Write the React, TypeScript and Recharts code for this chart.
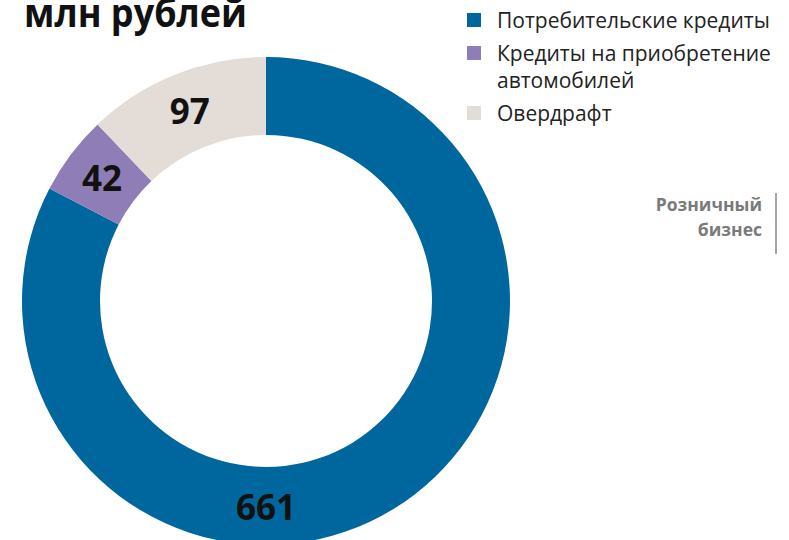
import React from 'react';
import { PieChart, Pie, Cell } from 'recharts';

const categories = ['Потребительские кредиты', 'Кредиты на приобретение автомобилей', 'Овердрафт'];
const values = [661, 42, 97];
const legendLines = [['Потребительские кредиты'], ['Кредиты на приобретение', 'автомобилей'], ['Овердрафт']];
const COLORS = ['#00679e', '#8f7db8', '#e4dcd6'];

const data = categories.map((name, i) => ({ name, value: values[i] }));

const RADIAN = Math.PI / 180;

// first slice label sits at the bottom of the ring, the others at their mid angle
const renderLabel = (props: any) => {
  const { cx, cy, innerRadius, outerRadius, midAngle, index, value } = props;
  const r = (innerRadius + outerRadius) / 2;
  const angle = index === 0 ? -90 : midAngle;
  const x = cx + r * Math.cos(-angle * RADIAN);
  const y = cy + r * Math.sin(-angle * RADIAN);
  return (
    <text x={x} y={y} textAnchor="middle" dominantBaseline="central" fill="#111" fontSize={35} fontWeight={700} fontFamily="'Open Sans', sans-serif">
      {value}
    </text>
  );
};

export default function App() {
  return (
    <div style={{ position: 'absolute', left: 0, top: 0, width: 789, height: 540, background: '#fff', overflow: 'hidden' }}>
      <PieChart width={789} height={540} margin={{ top: 0, right: 0, bottom: 0, left: 0 }}>
        <Pie
          data={data}
          dataKey="value"
          cx={266}
          cy={301}
          innerRadius={166}
          outerRadius={244}
          startAngle={90}
          endAngle={-270}
          stroke="none"
          label={renderLabel}
          labelLine={false}
          isAnimationActive={false}
        >
          {data.map((entry, index) => (
            <Cell key={`cell-${index}`} fill={COLORS[index % COLORS.length]} />
          ))}
        </Pie>
      </PieChart>
      <svg width={789} height={540} style={{ position: 'absolute', left: 0, top: 0, pointerEvents: 'none' }}>
        <text x={24} y={27} fontSize={39} fontWeight={700} fill="#111" fontFamily="'Open Sans', sans-serif" textLength={223} lengthAdjust="spacingAndGlyphs">млн рублей</text>
        {(() => {
          let y = 28;
          return legendLines.map((lines, i) => {
            const top = y;
            y += lines.length * 27 + 6;
            return (
              <g key={i}>
                <rect x={467} y={top - 15} width={14} height={14} fill={COLORS[i]} />
                {lines.map((l, j) => (
                  <text key={j} x={497} y={top + j * 27} fontSize={21} fill="#222" fontFamily="'Open Sans', sans-serif">{l}</text>
                ))}
              </g>
            );
          });
        })()}
        <text x={762} y={211} textAnchor="end" fontSize={17.5} fontWeight={700} fill="#7a7a7a" fontFamily="'Open Sans', sans-serif">Розничный</text>
        <text x={762} y={236} textAnchor="end" fontSize={17.5} fontWeight={700} fill="#7a7a7a" fontFamily="'Open Sans', sans-serif">бизнес</text>
        <line x1={776} x2={776} y1={193} y2={254} stroke="#888" strokeWidth={1.5} />
      </svg>
    </div>
  );
}
